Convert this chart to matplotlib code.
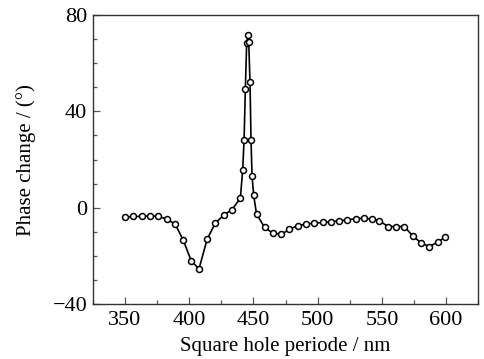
import matplotlib
matplotlib.use("Agg")
import matplotlib.pyplot as plt
from matplotlib.ticker import MultipleLocator

# square hole period (nm) and phase change (deg)
period = [350, 356.5, 363, 369.5, 376, 382.4, 389, 395.2, 401.6, 407.6,
          413.9, 420.3, 426.8, 433.3, 439.8, 441.6, 442.7, 443.7, 444.7,
          445.8, 446.3, 447.3, 448.1, 448.9, 450.2, 452.4, 458.7, 465.2,
          471.7, 478.0, 484.5, 491.0, 497.4, 503.9, 510.1, 516.7, 523.1,
          529.6, 535.8, 542.0, 548.0, 554.8, 561.0, 567.5, 574.0, 580.8,
          587.0, 593.4, 599.4]
phase = [-4.0, -3.6, -3.6, -3.3, -3.6, -4.7, -6.8, -13.3, -22.1, -25.4,
         -13.1, -6.4, -3.1, -0.8, 4.0, 15.6, 28.3, 49.3, 68.2,
         71.8, 69.0, 52.4, 28.3, 13.1, 5.1, -2.6, -8.2, -10.6,
         -11.0, -9.0, -7.4, -6.8, -6.4, -6.1, -5.8, -5.4, -5.0,
         -4.6, -4.3, -4.7, -5.4, -7.8, -7.8, -7.8, -11.7, -14.7,
         -16.1, -14.3, -12.1]

plt.rcParams["font.family"] = ["Liberation Serif", "DejaVu Serif"]

fig = plt.figure(figsize=(4.84, 3.59), dpi=100)
ax = fig.add_axes([0.192, 0.153, 0.796, 0.805])

ax.plot(period, phase, "-", color="black", lw=1.2,
        marker="o", ms=4.3, mfc="white", mec="black", mew=1.1)

ax.set_xlim(325, 625)
ax.set_ylim(-40, 80)
ax.xaxis.set_major_locator(MultipleLocator(50))
ax.xaxis.set_minor_locator(MultipleLocator(25))
ax.yaxis.set_major_locator(MultipleLocator(40))
ax.yaxis.set_minor_locator(MultipleLocator(10))
ax.tick_params(which="both", direction="in", top=False, right=False,
               labelsize=16, color="#555555", width=0.9)
ax.tick_params(which="major", length=5)
ax.tick_params(which="minor", length=3)
ax.tick_params(axis="x", pad=5)
ax.tick_params(axis="y", pad=4)
for s in ax.spines.values():
    s.set_color("#333333")
    s.set_linewidth(1.0)

ax.set_xlabel("Square hole periode / nm", fontsize=15, labelpad=5)
ax.set_ylabel("Phase change / (°)", fontsize=15, labelpad=12)

fig.savefig("out.png", dpi=100)
